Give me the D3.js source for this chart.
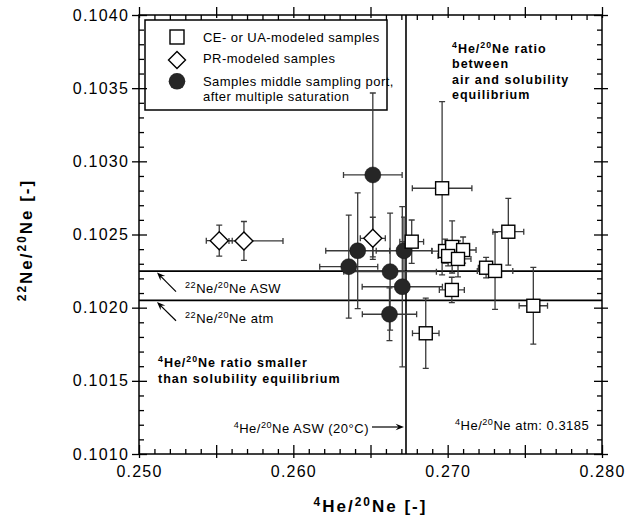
<!DOCTYPE html>
<html><head><meta charset="utf-8">
<script src="https://cdn.jsdelivr.net/npm/d3@7"></script>
<style>
html,body{margin:0;padding:0;background:#fff;}
svg{display:block;}
text{font-family:"Liberation Sans",Arial,Helvetica,sans-serif;fill:#000;}
</style></head>
<body>
<svg id="chart" width="627" height="529"></svg>
<script>
// ---------- data ----------
// CE- or UA-modeled samples (squares)
const ceuaX    = [0.26964, 0.26767, 0.26983, 0.27029, 0.27100, 0.27003, 0.27067, 0.27249, 0.27307, 0.27393, 0.27027, 0.27555, 0.26858];
const ceuaY    = [0.102816,0.102451,0.102387,0.102415,0.102394,0.102353,0.102333,0.102273,0.102251,0.102519,0.102121,0.102013,0.101825];
const ceuaXErr = [0.00193, 0.00077, 0.00084, 0.00078, 0.00084, 0.00065, 0.00084, 0.00050, 0.00115, 0.00100, 0.00081, 0.00092, 0.00086];
const ceuaYErr = [0.000592,0.000148,0.000082,0.000178,0.000089,0.000068,0.000123,0.000070,0.000263,0.000228,0.000087,0.000262,0.000240];
// PR-modeled samples (diamonds)
const prX         = [0.25520, 0.25680, 0.26515];
const prY         = [0.102458,0.102456,0.102474];
const prXErrMinus = [0.00084, 0.00097, 0.00081];
const prXErrPlus  = [0.00084, 0.00253, 0.00081];
const prYErr      = [0.000106,0.000133,0.000144];
// Samples middle sampling port, after multiple saturation (filled circles)
const msX    = [0.26515, 0.26417, 0.26359, 0.26717, 0.26627, 0.26706, 0.26623];
const msY    = [0.102907,0.102389,0.102280,0.102389,0.102246,0.102143,0.101955];
const msXErr = [0.00190, 0.00207, 0.00188, 0.00180, 0.00300, 0.00260, 0.00176];
const msYErr = [0.000560,0.000396,0.000352,0.000230,0.000400,0.000547,0.000180];
// reference lines
const heNeASW = 0.2673;   // 4He/20Ne ASW (20°C)
const neNeASW = 0.10225;  // 22Ne/20Ne ASW
const neNeAtm = 0.10205;  // 22Ne/20Ne atm
// axes
const xDomain = [0.250, 0.280];
const yDomain = [0.1010, 0.1040];
const xTickLabels = [0.250, 0.260, 0.270, 0.280];
const yTickLabels = [0.1010, 0.1015, 0.1020, 0.1025, 0.1030, 0.1035, 0.1040];
const legendLabels = ["CE- or UA-modeled samples", "PR-modeled samples", "Samples middle sampling port,", "after multiple saturation"];

// ---------- layout ----------
const L = 139, R = 602, T = 15, B = 454;
const svg = d3.select("#chart");
const x = d3.scaleLinear().domain(xDomain).range([L, R]);
const y = d3.scaleLinear().domain(yDomain).range([B, T]);

const xMajor = d3.range(0, 7).map(i => +(xDomain[0] + i * 0.005).toFixed(4));
const xMinor = d3.range(0, 31).map(i => +(xDomain[0] + i * 0.001).toFixed(4)).filter(v => !xMajor.includes(v));
const yMajor = yTickLabels;
const yMinor = d3.range(0, 31).map(i => +(yDomain[0] + i * 0.0001).toFixed(5)).filter(v => !yMajor.some(m => Math.abs(m - v) < 1e-9));

// rich text helper: "<sup>4</sup>He/<sup>20</sup>Ne"
function rich(parent, tx, ty, str, o) {
  const fs = o.size || 13;
  const t = parent.append("text").attr("x", tx).attr("y", ty)
    .style("font-size", fs + "px").style("font-weight", o.bold ? "bold" : "normal")
    .style("letter-spacing", (o.ls || 0) + "px")
    .attr("text-anchor", o.anchor || "start");
  if (o.transform) t.attr("transform", o.transform);
  const parts = str.split(/(<sup>.*?<\/sup>)/).filter(s => s.length);
  let up = false;
  const sh = fs * 0.38;
  parts.forEach(p => {
    const m = p.match(/^<sup>(.*)<\/sup>$/);
    if (m) {
      t.append("tspan").style("font-size", (fs * 0.7) + "px").attr("dy", up ? 0 : -sh).text(m[1]);
      up = true;
    } else {
      t.append("tspan").attr("dy", up ? sh : 0).text(p);
      up = false;
    }
  });
  return t;
}

// ---------- legend box ----------
const lg = svg.append("g");
lg.append("rect").attr("x", 145).attr("y", 20).attr("width", 242).attr("height", 90)
  .attr("fill", "#fff").attr("stroke", "#000").attr("stroke-width", 1.5);
lg.append("rect").attr("x", 170).attr("y", 30).attr("width", 14).attr("height", 14)
  .attr("fill", "#fff").attr("stroke", "#000").attr("stroke-width", 1.4);
lg.append("path").attr("d", "M177,51.5 L185.5,60 L177,68.5 L168.5,60 Z")
  .attr("fill", "#fff").attr("stroke", "#000").attr("stroke-width", 1.4);
lg.append("circle").attr("cx", 177).attr("cy", 81.3).attr("r", 8.3).attr("fill", "#262626");
const lgY = [41.7, 62.5, 85.7, 100.7];
legendLabels.forEach((s, i) => rich(lg, 203, lgY[i], s, {size: 13, ls: 0.45}));

// ---------- reference lines ----------
const ref = svg.append("g").attr("stroke", "#000").attr("stroke-width", 1.6);
ref.append("line").attr("x1", L).attr("x2", R).attr("y1", y(neNeASW)).attr("y2", y(neNeASW));
ref.append("line").attr("x1", L).attr("x2", R).attr("y1", y(neNeAtm)).attr("y2", y(neNeAtm));
ref.append("line").attr("x1", x(heNeASW)).attr("x2", x(heNeASW)).attr("y1", T).attr("y2", B);

// ---------- error bars ----------
const eb = svg.append("g").attr("stroke", "#3a3a3a").attr("stroke-width", 1.3).attr("fill", "none");
const cap = 3;
function errBar(cx, cy, xm, xp, ye) {
  const x0 = x(cx - xm), x1 = x(cx + xp), py = y(cy);
  const y0 = y(cy + ye), y1 = y(cy - ye), px = x(cx);
  eb.append("path").attr("d",
    `M${x0},${py}H${x1}M${x0},${py - cap}V${py + cap}M${x1},${py - cap}V${py + cap}` +
    `M${px},${y0}V${y1}M${px - cap},${y0}H${px + cap}M${px - cap},${y1}H${px + cap}`);
}
msX.forEach((v, i) => errBar(v, msY[i], msXErr[i], msXErr[i], msYErr[i]));
prX.forEach((v, i) => errBar(v, prY[i], prXErrMinus[i], prXErrPlus[i], prYErr[i]));
ceuaX.forEach((v, i) => errBar(v, ceuaY[i], ceuaXErr[i], ceuaXErr[i], ceuaYErr[i]));

// ---------- markers ----------
const mk = svg.append("g");
mk.selectAll("circle.ms").data(msX).join("circle").attr("class", "ms")
  .attr("cx", d => x(d)).attr("cy", (d, i) => y(msY[i])).attr("r", 8)
  .attr("fill", "#262626").attr("stroke", "#111").attr("stroke-width", 0.5);
mk.selectAll("path.pr").data(prX).join("path").attr("class", "pr")
  .attr("d", (d, i) => { const cx = x(d), cy = y(prY[i]), h = 9; return `M${cx},${cy - h}L${cx + h},${cy}L${cx},${cy + h}L${cx - h},${cy}Z`; })
  .attr("fill", "#fff").attr("stroke", "#000").attr("stroke-width", 1.4);
mk.selectAll("rect.ceua").data(ceuaX).join("rect").attr("class", "ceua")
  .attr("x", d => x(d) - 6.5).attr("y", (d, i) => y(ceuaY[i]) - 6.5).attr("width", 13).attr("height", 13)
  .attr("fill", "#fff").attr("stroke", "#000").attr("stroke-width", 1.4);

// ---------- axes ----------
function ax(gen, tr, vals, size, fmt) {
  const g = svg.append("g").attr("transform", tr)
    .call(gen.tickValues(vals).tickSizeInner(size).tickSizeOuter(0).tickFormat(fmt || ""));
  g.select(".domain").remove();
  g.selectAll(".tick line").attr("stroke", "#000").attr("stroke-width", 1.3);
  return g;
}
// bottom
ax(d3.axisBottom(x), `translate(0,${B})`, xMajor, -9);
ax(d3.axisBottom(x), `translate(0,${B})`, xMajor, 4);
ax(d3.axisBottom(x), `translate(0,${B})`, xMinor, -5);
const xl = ax(d3.axisBottom(x).tickPadding(12), `translate(0,${B})`, xTickLabels, 0, d3.format(".3f"));
xl.selectAll("text").style("font-size", "16px").style("letter-spacing", "1.2px").attr("fill", "#000")
  .style("font-family", '"Liberation Sans",Arial,sans-serif');
// top
ax(d3.axisTop(x), `translate(0,${T})`, xMajor, 8);
ax(d3.axisTop(x), `translate(0,${T})`, xMajor, -3);
ax(d3.axisTop(x), `translate(0,${T})`, xMinor, -5);
// left
ax(d3.axisLeft(y), `translate(${L},0)`, yMajor, -8);
ax(d3.axisLeft(y), `translate(${L},0)`, yMinor, -5);
const yl = ax(d3.axisLeft(y).tickPadding(3), `translate(${L},0)`, yMajor, 7, d3.format(".4f"));
yl.selectAll("text").style("font-size", "16px").style("letter-spacing", "1.2px").attr("fill", "#000")
  .style("font-family", '"Liberation Sans",Arial,sans-serif');
// right
ax(d3.axisRight(y), `translate(${R},0)`, yMajor, -8);
ax(d3.axisRight(y), `translate(${R},0)`, yMajor, 6);
ax(d3.axisRight(y), `translate(${R},0)`, yMinor, -5);

// frame
svg.append("rect").attr("x", L).attr("y", T).attr("width", R - L).attr("height", B - T)
  .attr("fill", "none").attr("stroke", "#000").attr("stroke-width", 1.5);

// axis titles
rich(svg, (L + R) / 2, 512, "<sup>4</sup>He/<sup>20</sup>Ne [-]", {size: 17, bold: true, ls: 2, anchor: "middle"});
rich(svg, 0, 0, "<sup>22</sup>Ne/<sup>20</sup>Ne [-]", {size: 17, bold: true, ls: 2, anchor: "middle", transform: "translate(32,240) rotate(-90)"});

// ---------- annotations ----------
const an = svg.append("g");
["<sup>4</sup>He/<sup>20</sup>Ne ratio", "between", "air and solubility", "equilibrium"]
  .forEach((s, i) => rich(an, 452, [52.5, 68, 83.5, 99][i], s, {size: 12.5, bold: true, ls: 1}));
["<sup>4</sup>He/<sup>20</sup>Ne ratio smaller", "than solubility equilibrium"]
  .forEach((s, i) => rich(an, 158, [366.7, 383.3][i], s, {size: 12.5, bold: true, ls: 1}));
rich(an, 185, 293.3, "<sup>22</sup>Ne/<sup>20</sup>Ne ASW", {size: 13, ls: 0.5});
rich(an, 185, 323.3, "<sup>22</sup>Ne/<sup>20</sup>Ne atm", {size: 13, ls: 0.5});
rich(an, 369, 433, "<sup>4</sup>He/<sup>20</sup>Ne ASW (20°C)", {size: 13, ls: 0.5, anchor: "end"});
rich(an, 455, 430, "<sup>4</sup>He/<sup>20</sup>Ne atm: 0.3185", {size: 13, ls: 0.5});

// arrows
function arrow(x1, y1, x2, y2) {
  const a = Math.atan2(y2 - y1, x2 - x1), len = 9, w = 0.38;
  an.append("line").attr("x1", x1).attr("y1", y1).attr("x2", x2 - Math.cos(a) * 4).attr("y2", y2 - Math.sin(a) * 4)
    .attr("stroke", "#000").attr("stroke-width", 1.2);
  an.append("path").attr("d",
    `M${x2},${y2}L${x2 - len * Math.cos(a - w)},${y2 - len * Math.sin(a - w)}L${x2 - 0.6 * len * Math.cos(a)},${y2 - 0.6 * len * Math.sin(a)}L${x2 - len * Math.cos(a + w)},${y2 - len * Math.sin(a + w)}Z`)
    .attr("fill", "#000");
}
arrow(176, 291.7, 157, 272.5);
arrow(176, 320.7, 157, 302);
arrow(372, 427, x(heNeASW) - 2, 427);
</script>
</body></html>
